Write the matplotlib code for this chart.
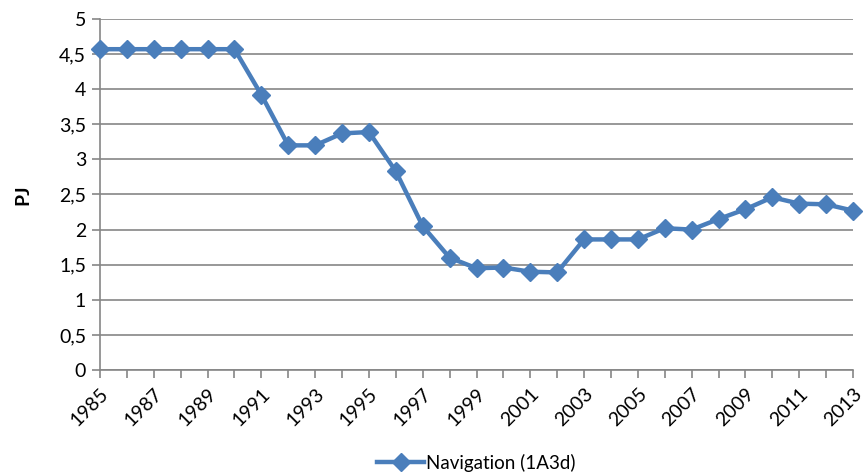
import matplotlib.pyplot as plt
import numpy as np

years = list(range(1985, 2014))
navigation = [4.57, 4.57, 4.57, 4.57, 4.57, 4.57, 3.92, 3.20, 3.20, 3.37,
              3.39, 2.83, 2.05, 1.60, 1.45, 1.46, 1.40, 1.39, 1.86, 1.86,
              1.86, 2.02, 2.00, 2.15, 2.29, 2.46, 2.37, 2.36, 2.27]
y_ticks = [0, 0.5, 1, 1.5, 2, 2.5, 3, 3.5, 4, 4.5, 5]

plt.rcParams['font.family'] = ['Lato', 'DejaVu Sans']
grey = '#868686'
blue = '#4A7EBB'

fig = plt.figure(figsize=(8.65, 4.75), dpi=100)
ax = fig.add_axes([100/865, 105/475, 753/865, 351/475])

ax.plot(years, navigation, color=blue, lw=3.2, marker='D', markersize=9.5,
        markeredgecolor=blue, label='Navigation (1A3d)', clip_on=False, zorder=3)

ax.set_xlim(1985, 2013)
ax.set_ylim(0, 5)
ax.set_yticks(y_ticks)
ax.set_yticklabels([str(t).replace('.', ',').replace(',0', '') for t in y_ticks], fontsize=14)
ax.set_xticks(years)
ax.set_xticklabels([str(y) if (y - 1985) % 2 == 0 else '' for y in years],
                   rotation=45, ha='right', rotation_mode='anchor', fontsize=14)

ax.grid(axis='y', color=grey, lw=1.2)
ax.set_axisbelow(True)
for s in ['top', 'right']:
    ax.spines[s].set_visible(False)
for s in ['left', 'bottom']:
    ax.spines[s].set_color(grey)
    ax.spines[s].set_linewidth(1.2)
ax.tick_params(axis='both', color=grey, width=1.2, length=6)
ax.tick_params(axis='y', pad=4)
ax.tick_params(axis='x', pad=5)
ax.set_ylabel('PJ', fontsize=14, fontweight='bold', labelpad=20)

ax.legend(loc='upper center', bbox_to_anchor=(0.5, -0.19), frameon=False,
          fontsize=13.5, handlelength=2.5, handletextpad=0.1)

fig.savefig('out.png', dpi=100)
